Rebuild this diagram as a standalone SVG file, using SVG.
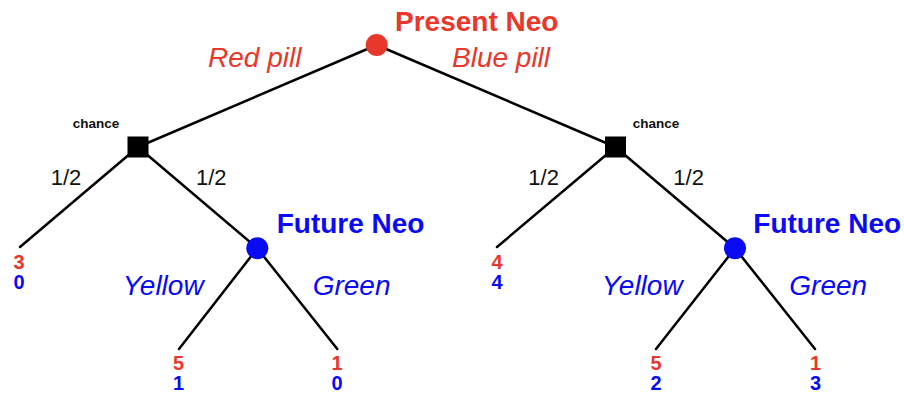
<svg xmlns="http://www.w3.org/2000/svg" width="904" height="393" viewBox="0 0 904 393">
  <style>
    .edge { stroke: #000; stroke-width: 2.5; fill: none; stroke-linecap: round; }
    .sans { font-family: "Liberation Sans", Arial, sans-serif; }
    .player { font-size: 28px; font-weight: bold; }
    .move { font-size: 28px; font-style: italic; }
    .prob { font-size: 22px; fill: #111; }
    .tag { font-size: 13.5px; font-weight: bold; fill: #111; }
    .pay { font-size: 20px; font-weight: bold; text-anchor: middle; }
    .red { fill: #e8372b; }
    .blue { fill: #0a0af5; }
  </style>
  <rect width="904" height="393" fill="#fff"/>

  <!-- branches -->
  <g id="connectors">
    <line class="edge" x1="376.7" y1="45" x2="138" y2="147"/>
    <line class="edge" x1="376.7" y1="45" x2="615.5" y2="147"/>
    <line class="edge" x1="138" y1="147" x2="20" y2="247"/>
    <line class="edge" x1="138" y1="147" x2="257.3" y2="248.3"/>
    <line class="edge" x1="615.5" y1="147" x2="497" y2="247"/>
    <line class="edge" x1="615.5" y1="147" x2="735" y2="248.3"/>
    <line class="edge" x1="257.3" y1="248.3" x2="179" y2="349"/>
    <line class="edge" x1="257.3" y1="248.3" x2="337.3" y2="349"/>
    <line class="edge" x1="735" y1="248.3" x2="656" y2="349"/>
    <line class="edge" x1="735" y1="248.3" x2="815" y2="349"/>
  </g>

  <!-- decision labels -->
  <g id="edge-labels" class="sans">
    <text class="move red" x="208" y="67">Red pill</text>
    <text class="move red" x="452" y="67">Blue pill</text>
    <text class="prob" x="50.7" y="185">1/2</text>
    <text class="prob" x="196" y="185">1/2</text>
    <text class="prob" x="528.3" y="185">1/2</text>
    <text class="prob" x="673.3" y="185">1/2</text>
    <text class="move blue" x="122.7" y="295">Yellow</text>
    <text class="move blue" x="312.7" y="295">Green</text>
    <text class="move blue" x="601.7" y="295">Yellow</text>
    <text class="move blue" x="789.3" y="295">Green</text>
  </g>

  <g id="present-neo" class="sans">
    <circle cx="376.7" cy="45" r="11" fill="#e8372b"/>
    <text class="player red" x="395" y="31">Present Neo</text>
  </g>

  <g id="chance-left" class="sans">
    <rect x="127.5" y="136.5" width="21" height="21" fill="#000"/>
    <text class="tag" x="72.7" y="128">chance</text>
  </g>

  <g id="chance-right" class="sans">
    <rect x="605" y="136.5" width="21" height="21" fill="#000"/>
    <text class="tag" x="632.7" y="128">chance</text>
  </g>

  <g id="future-neo-left" class="sans">
    <circle cx="257.3" cy="248.3" r="11" fill="#0a0af5"/>
    <text class="player blue" x="276.7" y="233">Future Neo</text>
  </g>

  <g id="future-neo-right" class="sans">
    <circle cx="735" cy="248.3" r="11" fill="#0a0af5"/>
    <text class="player blue" x="753.3" y="233">Future Neo</text>
  </g>

  <!-- payoffs: red for Present Neo, blue for Future Neo -->
  <g id="leaf-a" class="sans">
    <text class="pay red" x="19" y="269">3</text>
    <text class="pay blue" x="19" y="289">0</text>
  </g>
  <g id="leaf-b" class="sans">
    <text class="pay red" x="178.5" y="370">5</text>
    <text class="pay blue" x="178.5" y="390">1</text>
  </g>
  <g id="leaf-c" class="sans">
    <text class="pay red" x="337" y="370">1</text>
    <text class="pay blue" x="337" y="390">0</text>
  </g>
  <g id="leaf-d" class="sans">
    <text class="pay red" x="497" y="269">4</text>
    <text class="pay blue" x="497" y="289">4</text>
  </g>
  <g id="leaf-e" class="sans">
    <text class="pay red" x="656" y="370">5</text>
    <text class="pay blue" x="656" y="390">2</text>
  </g>
  <g id="leaf-f" class="sans">
    <text class="pay red" x="815.5" y="370">1</text>
    <text class="pay blue" x="815.5" y="390">3</text>
  </g>
</svg>
